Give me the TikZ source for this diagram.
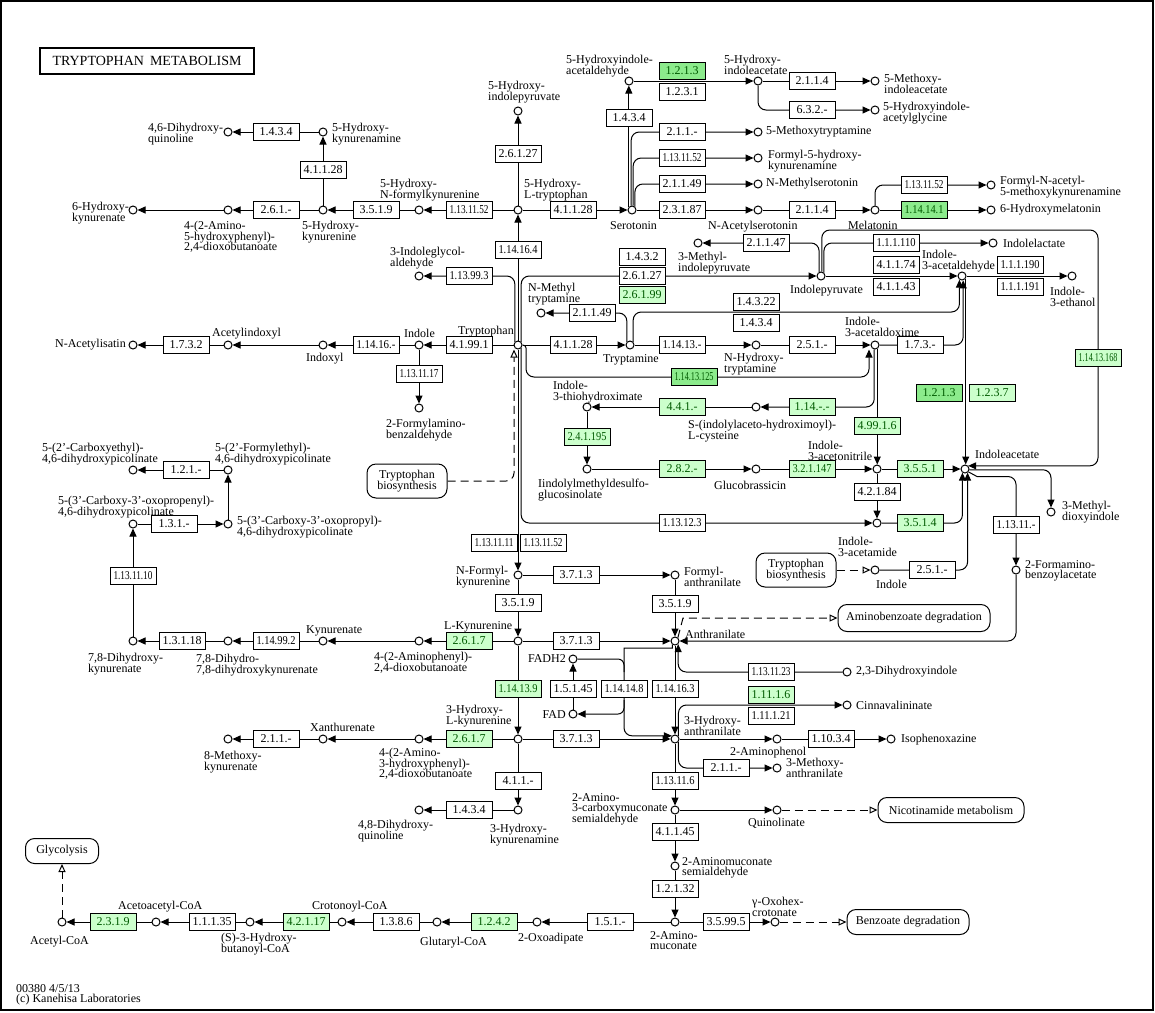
\documentclass[tikz,border=0pt]{standalone}
\usepackage{fontspec}
\setmainfont{Liberation Serif}
\usepackage{graphicx}
\usetikzlibrary{arrows.meta}
\pgfdeclarelayer{bg}
\pgfsetlayers{bg,main}
\definecolor{kgl}{RGB}{204,255,204}
\definecolor{kgd}{RGB}{140,235,140}
\definecolor{kgt}{RGB}{0,90,0}
\newsavebox\ecsave
\newcommand\ecfit[1]{\sbox\ecsave{#1}\ifdim\wd\ecsave>41pt\pgfmathsetmacro\ecr{39/\the\wd\ecsave}\scalebox{\ecr}[1]{\usebox\ecsave}\else\usebox\ecsave\fi}
\newcommand\ec[4]{\node[ecbox] (#1) at (#2,#3) {\ecfit{#4}};}
\newcommand\ecl[4]{\node[ecbox,fill=kgl,text=kgt] (#1) at (#2,#3) {\ecfit{#4}};}
\newcommand\ecd[4]{\node[ecbox,fill=kgd,text=kgt] (#1) at (#2,#3) {\ecfit{#4}};}
\newcommand\cp[3]{\node[cpd] (#1) at (#2,#3) {};}
\tikzset{
 cpd/.style={circle,draw,fill=white,minimum size=8pt,inner sep=0pt,line width=1pt},
 ecbox/.style={draw,fill=white,minimum width=46pt,minimum height=17pt,inner sep=0pt,line width=1pt,font=\fontsize{12}{12}\selectfont},
 lbl/.style={anchor=north west,inner sep=0pt,align=left,font=\fontsize{12}{10.5}\selectfont},
 mapbox/.style={draw,rounded corners=9pt,fill=white,line width=1pt,align=center,inner sep=0pt,font=\fontsize{12}{10.5}\selectfont},
 arr/.style={line width=1pt,-{Triangle[length=8pt,width=7pt]}},
 dsh/.style={line width=1pt,dash pattern=on 8pt off 5pt,-{Triangle[open,length=8pt,width=7pt]}},
 rnd/.style={rounded corners=8pt},
}
\begin{document}
\lineskiplimit=-20pt\relax
\begin{tikzpicture}[x=1pt,y=-1pt]
\useasboundingbox (0,0) rectangle (1155,1012);
\draw[line width=2pt] (1,1) rectangle (1153,1010);
\node[draw,line width=2pt,minimum width=214pt,minimum height=26pt,inner sep=0pt,font=\fontsize{14}{14}\selectfont] (title) at (147,61) {TRYPTOPHAN\hspace{6pt}METABOLISM};
\node[lbl] (footer) at (16,984) {00380 4/5/13\\{}(c) Kanehisa Laboratories};

% ---------- compounds
\cp{c46dhq}{228}{132}
\cp{c5hkna}{323}{132}
\cp{c6hk}{133}{210}
\cp{c4a5h}{228}{210}
\cp{c5hk}{323}{210}
\cp{c5hnfk}{419}{210}
\cp{c5htp}{518}{210}
\cp{c5hip}{518}{111}
\cp{cser}{632}{210}
\cp{c5hial}{629}{81}
\cp{c5hiaa}{758}{81}
\cp{c5miaa}{875}{81}
\cp{c5hiag}{875}{110}
\cp{c5mt}{758}{132}
\cp{cf5hk}{758}{158}
\cp{cnms}{758}{184}
\cp{cnas}{758}{210}
\cp{cmel}{875}{210}
\cp{cfnam}{991}{185}
\cp{c6hm}{991}{210}
\cp{c3igl}{419}{276}
\cp{ctrp}{518}{345}
\cp{cnmt}{541}{313}
\cp{c3mip}{698}{243}
\cp{cipyr}{821}{276}
\cp{cilac}{993}{243}
\cp{ci3ald}{962}{276}
\cp{ci3eth}{1072}{276}
\cp{ctrm}{630}{345}
\cp{cnht}{756}{345}
\cp{ci3aox}{875}{345}
\cp{cindole}{419}{345}
\cp{cindoxyl}{323}{345}
\cp{cacind}{228}{345}
\cp{cnais}{133}{345}
\cp{c2fab}{419}{408}
\cp{ci3th}{587}{407}
\cp{csiac}{756}{407}
\cp{cimdg}{587}{469}
\cp{cgbr}{756}{469}
\cp{ci3an}{877}{469}
\cp{ciaa}{965}{469}
\cp{ci3am}{877}{523}
\cp{cindole2}{875}{570}
\cp{c3md}{1051}{512}
\cp{c2fba}{1016}{570}
\cp{c2ce}{133}{470}
\cp{c2fe}{228}{470}
\cp{c3cop}{133}{524}
\cp{c3coprop}{228}{524}
\cp{c78dhk}{133}{641}
\cp{c78dd}{228}{641}
\cp{ckyna}{323}{641}
\cp{c4a2}{419}{641}
\cp{ckyn}{518}{641}
\cp{cnfk}{518}{575}
\cp{cfa}{675}{575}
\cp{cant}{675}{641}
\cp{c23dhi}{847}{672}
\cp{cfadh2}{573}{659}
\cp{cfad}{573}{714}
\cp{c3hk}{518}{739}
\cp{c4a3h}{419}{739}
\cp{cxan}{323}{739}
\cp{c8mk}{228}{739}
\cp{c3hkna}{518}{810}
\cp{c48dhq}{419}{810}
\cp{c3ha}{675}{739}
\cp{ccinn}{847}{705}
\cp{c2ap}{777}{739}
\cp{ciso}{891}{739}
\cp{c3ma}{777}{768}
\cp{c2acms}{675}{810}
\cp{cquin}{777}{810}
\cp{c2ams}{675}{866}
\cp{c2am}{675}{922}
\cp{coxo}{775}{922}
\cp{c2oa}{537}{922}
\cp{cglut}{437}{922}
\cp{ccrot}{342}{922}
\cp{cshb}{250}{922}
\cp{cacac}{156}{922}
\cp{cacoa}{62}{922}

% ---------- map boxes
\node[mapbox,minimum width=80pt,minimum height=34pt] (mTB1) at (407,481) {Tryptophan\\biosynthesis};
\node[mapbox,minimum width=80pt,minimum height=34pt] (mTB2) at (796,570) {Tryptophan\\biosynthesis};
\node[mapbox,minimum width=152pt,minimum height=27pt] (mAB) at (914,618) {Aminobenzoate degradation};
\node[mapbox,minimum width=146pt,minimum height=25pt] (mNM) at (951,810) {Nicotinamide metabolism};
\node[mapbox,minimum width=122pt,minimum height=25pt] (mBD) at (908,922) {Benzoate degradation};
\node[mapbox,minimum width=73pt,minimum height=25pt] (mGly) at (62,851) {Glycolysis};

% ---------- enzymes
\ec{e1}{276}{132}{1.4.3.4}
\ec{e2}{323}{170}{4.1.1.28}
\ec{e3}{276}{210}{2.6.1.-}
\ec{e4}{376}{210}{3.5.1.9}
\ec{e5}{469}{210}{1.13.11.52}
\ec{e6}{573}{210}{4.1.1.28}
\ec{e7}{518}{154}{2.6.1.27}
\ec{e8}{518}{250}{1.14.16.4}
\ec{e9}{629}{118}{1.4.3.4}
\ecd{e10}{682}{71}{1.2.1.3}
\ec{e11}{682}{92}{1.2.3.1}
\ec{e12}{812}{81}{2.1.1.4}
\ec{e13}{812}{110}{6.3.2.-}
\ec{e14}{682}{132}{2.1.1.-}
\ec{e15}{682}{158}{1.13.11.52}
\ec{e16}{682}{184}{2.1.1.49}
\ec{e17}{682}{210}{2.3.1.87}
\ec{e18}{812}{210}{2.1.1.4}
\ec{e19}{924}{185}{1.13.11.52}
\ecd{e20}{924}{210}{1.14.14.1}
\ec{e21}{766}{243}{2.1.1.47}
\ec{e22}{896}{243}{1.1.1.110}
\ec{e23}{896}{265}{4.1.1.74}
\ec{e24}{896}{287}{4.1.1.43}
\ec{e25}{1020}{265}{1.1.1.190}
\ec{e26}{1020}{287}{1.1.1.191}
\ec{e27}{642}{257}{1.4.3.2}
\ec{e28}{642}{276}{2.6.1.27}
\ecl{e29}{642}{295}{2.6.1.99}
\ec{e30}{469}{276}{1.13.99.3}
\ec{e31}{592}{313}{2.1.1.49}
\ec{e32}{756}{302}{1.4.3.22}
\ec{e33}{756}{323}{1.4.3.4}
\ec{e34}{469}{345}{4.1.99.1}
\ec{e35}{376}{345}{1.14.16.-}
\ec{e36}{186}{345}{1.7.3.2}
\ec{e37}{419}{374}{1.13.11.17}
\ec{e38}{573}{345}{4.1.1.28}
\ec{e39}{682}{345}{1.14.13.-}
\ec{e40}{812}{345}{2.5.1.-}
\ec{e41}{920}{345}{1.7.3.-}
\ecd{e42}{694}{377}{1.14.13.125}
\ecl{e43}{1098}{358}{1.14.13.168}
\ecd{e44}{939}{393}{1.2.1.3}
\ecl{e45}{992}{393}{1.2.3.7}
\ecl{e46}{682}{407}{4.4.1.-}
\ecl{e47}{812}{407}{1.14.-.-}
\ecl{e48}{877}{426}{4.99.1.6}
\ecl{e49}{587}{437}{2.4.1.195}
\ecl{e50}{682}{469}{2.8.2.-}
\ecl{e51}{812}{469}{3.2.1.147}
\ecl{e52}{920}{469}{3.5.5.1}
\ec{e53}{877}{492}{4.2.1.84}
\ecl{e54}{920}{523}{3.5.1.4}
\ec{e55}{682}{523}{1.13.12.3}
\ec{e56}{932}{570}{2.5.1.-}
\ec{e57}{1016}{525}{1.13.11.-}
\ec{e58}{494}{543}{1.13.11.11}
\ec{e59}{543}{543}{1.13.11.52}
\ec{e60}{576}{575}{3.7.1.3}
\ec{e61}{675}{604}{3.5.1.9}
\ec{e62}{518}{603}{3.5.1.9}
\ec{e63}{576}{641}{3.7.1.3}
\ecl{e64}{469}{641}{2.6.1.7}
\ec{e65}{276}{641}{1.14.99.2}
\ec{e66}{182}{641}{1.3.1.18}
\ec{e67}{133}{576}{1.13.11.10}
\ec{e68}{174}{524}{1.3.1.-}
\ec{e69}{186}{470}{1.2.1.-}
\ec{e70}{771}{672}{1.13.11.23}
\ec{e71}{573}{689}{1.5.1.45}
\ec{e72}{624}{689}{1.14.14.8}
\ec{e73}{675}{689}{1.14.16.3}
\ecl{e74}{518}{689}{1.14.13.9}
\ec{e75}{576}{739}{3.7.1.3}
\ecl{e76}{469}{739}{2.6.1.7}
\ec{e77}{276}{739}{2.1.1.-}
\ec{e78}{518}{781}{4.1.1.-}
\ec{e79}{469}{810}{1.4.3.4}
\ecl{e80}{771}{695}{1.11.1.6}
\ec{e81}{771}{716}{1.11.1.21}
\ec{e82}{831}{739}{1.10.3.4}
\ec{e83}{726}{768}{2.1.1.-}
\ec{e84}{675}{781}{1.13.11.6}
\ec{e85}{675}{832}{4.1.1.45}
\ec{e86}{675}{889}{1.2.1.32}
\ec{e87}{726}{922}{3.5.99.5}
\ec{e88}{610}{922}{1.5.1.-}
\ecl{e89}{494}{922}{1.2.4.2}
\ec{e90}{396}{922}{1.3.8.6}
\ecl{e91}{306}{922}{4.2.1.17}
\ec{e92}{212}{922}{1.1.1.35}
\ecl{e93}{113}{922}{2.3.1.9}

% ---------- labels
\node[lbl] (l46dhq) at (148,123) {4,6-Dihydroxy-\\quinoline};
\node[lbl] (l5hkna) at (332,123) {5-Hydroxy-\\kynurenamine};
\node[lbl] (l6hk) at (72,202) {6-Hydroxy-\\kynurenate};
\node[lbl] (l4a5h) at (184,221) {4-(2-Amino-\\5-hydroxyphenyl)-\\2,4-dioxobutanoate};
\node[lbl] (l5hk) at (302,221) {5-Hydroxy-\\kynurenine};
\node[lbl] (l5hnfk) at (380,179) {5-Hydroxy-\\N-formylkynurenine};
\node[lbl] (l5htp) at (524,179) {5-Hydroxy-\\L-tryptophan};
\node[lbl] (l5hip) at (488,81) {5-Hydroxy-\\indolepyruvate};
\node[lbl] (lser) at (610,221) {Serotonin};
\node[lbl] (l5hial) at (566,55) {5-Hydroxyindole-\\acetaldehyde};
\node[lbl] (l5hiaa) at (724,55) {5-Hydroxy-\\indoleacetate};
\node[lbl] (l5miaa) at (884,74) {5-Methoxy-\\indoleacetate};
\node[lbl] (l5hiag) at (883,102) {5-Hydroxyindole-\\acetylglycine};
\node[lbl,anchor=west] (l5mt) at (766,132) {5-Methoxytryptamine};
\node[lbl] (lf5hk) at (768,150) {Formyl-5-hydroxy-\\kynurenamine};
\node[lbl,anchor=west] (lnms) at (766,184) {N-Methylserotonin};
\node[lbl] (lnas) at (708,221) {N-Acetylserotonin};
\node[lbl] (lmel) at (848,221) {Melatonin};
\node[lbl] (lfnam) at (1000,176) {Formyl-N-acetyl-\\5-methoxykynurenamine};
\node[lbl,anchor=west] (l6hm) at (1000,210) {6-Hydroxymelatonin};
\node[lbl] (l3igl) at (390,247) {3-Indoleglycol-\\aldehyde};
\node[lbl] (ltrp) at (458,326) {Tryptophan};
\node[lbl] (lnmt) at (528,283) {N-Methyl\\tryptamine};
\node[lbl] (l3mip) at (678,252) {3-Methyl-\\indolepyruvate};
\node[lbl] (lipyr) at (790,285) {Indolepyruvate};
\node[lbl,anchor=west] (lilac) at (1003,243) {Indolelactate};
\node[lbl] (li3ald) at (922,250) {Indole-\\3-acetaldehyde};
\node[lbl] (li3eth) at (1050,287) {Indole-\\3-ethanol};
\node[lbl] (ltrm) at (603,354) {Tryptamine};
\node[lbl] (lnht) at (724,353) {N-Hydroxy-\\tryptamine};
\node[lbl] (li3aox) at (845,317) {Indole-\\3-acetaldoxime};
\node[lbl] (lindole) at (404,329) {Indole};
\node[lbl] (lindoxyl) at (306,353) {Indoxyl};
\node[lbl] (lacind) at (212,328) {Acetylindoxyl};
\node[lbl,anchor=east] (lnais) at (126,345) {N-Acetylisatin};
\node[lbl] (l2fab) at (386,419) {2-Formylamino-\\benzaldehyde};
\node[lbl] (li3th) at (553,381) {Indole-\\3-thiohydroximate};
\node[lbl] (lsiac) at (688,420) {S-(indolylaceto-hydroximoyl)-\\L-cysteine};
\node[lbl] (limdg) at (538,479) {Iindolylmethyldesulfo-\\glucosinolate};
\node[lbl] (lgbr) at (714,481) {Glucobrassicin};
\node[lbl] (li3an) at (808,441) {Indole-\\3-acetonitrile};
\node[lbl] (liaa) at (975,450) {Indoleacetate};
\node[lbl] (li3am) at (838,537) {Indole-\\3-acetamide};
\node[lbl] (lindole2) at (876,580) {Indole};
\node[lbl] (l3md) at (1062,501) {3-Methyl-\\dioxyindole};
\node[lbl] (l2fba) at (1025,560) {2-Formamino-\\benzoylacetate};
\node[lbl] (l2ce) at (42,443) {5-(2'-Carboxyethyl)-\\4,6-dihydroxypicolinate};
\node[lbl] (l2fe) at (215,443) {5-(2'-Formylethyl)-\\4,6-dihydroxypicolinate};
\node[lbl] (l3cop) at (58,496) {5-(3'-Carboxy-3'-oxopropenyl)-\\4,6-dihydroxypicolinate};
\node[lbl] (l3coprop) at (237,516) {5-(3'-Carboxy-3'-oxopropyl)-\\4,6-dihydroxypicolinate};
\node[lbl] (l78dhk) at (88,653) {7,8-Dihydroxy-\\kynurenate};
\node[lbl] (l78dd) at (196,654) {7,8-Dihydro-\\7,8-dihydroxykynurenate};
\node[lbl] (lkyna) at (306,625) {Kynurenate};
\node[lbl] (l4a2) at (374,652) {4-(2-Aminophenyl)-\\2,4-dioxobutanoate};
\node[lbl] (lkyn) at (444,621) {L-Kynurenine};
\node[lbl] (lnfk) at (456,566) {N-Formyl-\\kynurenine};
\node[lbl] (lfa) at (684,567) {Formyl-\\anthranilate};
\node[lbl] (lant) at (685,630) {Anthranilate};
\node[lbl,anchor=west] (l23dhi) at (856,672) {2,3-Dihydroxyindole};
\node[lbl,anchor=east] (lfadh2) at (566,659) {FADH2};
\node[lbl,anchor=east] (lfad) at (566,715) {FAD};
\node[lbl] (l3hk) at (446,705) {3-Hydroxy-\\L-kynurenine};
\node[lbl] (l4a3h) at (379,748) {4-(2-Amino-\\3-hydroxyphenyl)-\\2,4-dioxobutanoate};
\node[lbl] (lxan) at (310,723) {Xanthurenate};
\node[lbl] (l8mk) at (204,751) {8-Methoxy-\\kynurenate};
\node[lbl] (l3hkna) at (490,824) {3-Hydroxy-\\kynurenamine};
\node[lbl] (l48dhq) at (358,820) {4,8-Dihydroxy-\\quinoline};
\node[lbl] (l3ha) at (684,716) {3-Hydroxy-\\anthranilate};
\node[lbl,anchor=west] (lcinn) at (856,705) {Cinnavalininate};
\node[lbl] (l2ap) at (730,747) {2-Aminophenol};
\node[lbl,anchor=west] (liso) at (901,740) {Isophenoxazine};
\node[lbl] (l3ma) at (786,758) {3-Methoxy-\\anthranilate};
\node[lbl] (l2acms) at (572,793) {2-Amino-\\3-carboxymuconate\\semialdehyde};
\node[lbl] (lquin) at (748,818) {Quinolinate};
\node[lbl] (l2ams) at (682,857) {2-Aminomuconate\\semialdehyde};
\node[lbl] (l2am) at (650,931) {2-Amino-\\muconate};
\node[lbl] (loxo) at (752,897) {γ-Oxohex-\\crotonate};
\node[lbl] (l2oa) at (518,933) {2-Oxoadipate};
\node[lbl] (lglut) at (420,937) {Glutaryl-CoA};
\node[lbl] (lcrot) at (312,901) {Crotonoyl-CoA};
\node[lbl] (lshb) at (221,933) {(S)-3-Hydroxy-\\butanoyl-CoA};
\node[lbl] (lacac) at (118,901) {Acetoacetyl-CoA};
\node[lbl] (lacoa) at (30,936) {Acetyl-CoA};

\coordinate (y312) at (0,312);
\coordinate (x624) at (624,0);
\coordinate (j648) at (624,648);
\coordinate (jfadh2) at (624,672);
\coordinate (jfad) at (624,700);

% ---------- connectors
\begin{pgfonlayer}{bg}
\draw[arr] (c5hk) -- (c5hkna);
\draw[arr] (c5hkna) -- (c46dhq);
\draw[arr] (c5hk) -- (c4a5h);
\draw[arr] (c4a5h) -- (c6hk);
\draw[arr] (c5hnfk) -- (c5hk);
\draw[arr] (c5htp) -- (c5hnfk);
\draw[arr] (c5htp) -- (cser);
\draw[arr] (c5htp) -- (c5hip);
\draw[arr] (ctrp) -- (c5htp);
\draw[arr] (cser.135) -- (cser.135 |- c5hial.south);
\draw[arr,rnd] (cser.100) |- (c5mt.west);
\draw[arr,rnd] (cser.75) |- (cf5hk.west);
\draw[arr,rnd] (cser.50) |- (cnms.west);
\draw[arr] (cser) -- (cnas);
\draw[arr] (c5hial) -- (c5hiaa);
\draw[arr] (c5hiaa) -- (c5miaa);
\draw[arr,rnd] (c5hiaa.south) |- (c5hiag.west);
\draw[arr] (cnas) -- (cmel);
\draw[arr,rnd] (cmel.north) |- (cfnam.west);
\draw[arr] (cmel) -- (c6hm);
% indolepyruvate
\draw[arr,rnd] (ctrp.45) |- (cipyr.west);
\draw[arr,rnd] (ctrp.135) |- (c3igl.east);
\draw[arr,rnd] (cipyr.115) |- (c3mip.east);
\draw[arr,rnd] (cipyr.50) |- (cilac.west);
\draw[arr,rnd] (cipyr.80) |- (1098,230) |- (ciaa.45);
\draw[arr] (cipyr) -- (ci3ald);
\draw[arr] (ci3ald) -- (ci3eth);
\draw[arr] (ci3ald.-35) -- (ci3ald.-35 |- ciaa.north);
% tryptamine
\draw[arr] (ctrp) -- (ctrm);
\draw[arr,rnd] (ctrm.135) |- (cnmt.east);
\draw[arr,rnd] (ctrm.45) |- (y312 -| ci3ald.-125) -- (ci3ald.-125);
\draw[arr] (ctrm) -- (cnht);
\draw[arr] (cnht) -- (ci3aox);
\draw[arr,rnd] (ci3aox.east) -| (ci3ald.-75);
\draw[arr] (ctrp.east) [rounded corners=3pt] -- (526,345) -- (526,352) [rounded corners=8pt] |- (869,377) -- ([xshift=-6pt]ci3aox.south);
\draw[arr,rnd] (ctrp.-45) |- (ci3am.west);
\draw[arr] (ctrp) -- (cnfk);
\draw[dsh,rnd] (mTB1.east) -| ([xshift=-4pt]ctrp.south);
% indole
\draw[arr] (ctrp) -- (cindole);
\draw[arr] (cindole) -- (cindoxyl);
\draw[arr] (cindoxyl) -- (cacind);
\draw[arr] (cacind) -- (cnais);
\draw[arr] (cindole) -- (c2fab);
% glucosinolate
\draw[arr,rnd] (ci3aox.-100) |- (csiac.east);
\draw[arr] (csiac) -- (ci3th);
\draw[arr] (ci3th) -- (cimdg);
\draw[arr] (cimdg) -- (cgbr);
\draw[arr] (cgbr) -- (ci3an);
\draw[arr] (ci3aox.-60) -- (ci3aox.-60 |- ci3an.north);
\draw[arr] (ci3an) -- (ciaa);
\draw[arr] (ci3an) -- (ci3am);
\draw[arr,rnd] (ci3am.east) -| (ciaa.-125);
\draw[arr,rnd] (cindole2.east) -| (ciaa.-55);
\draw[dsh] (mTB2.east) -- (cindole2.west);
\draw[arr,rnd] (ciaa.-10) -| (c3md.north);
\draw[arr] (ciaa.-40) -- (977,476.5) -- (1000,476.5) [rounded corners=8pt] -| (c2fba.north);
\draw[arr,rnd] (c2fba.south) |- (cant.east);
% kynurenine
\draw[arr] (cnfk) -- (cfa);
\draw[arr] (cnfk) -- (ckyn);
\draw[arr] (cfa) -- (cant);
\draw[arr] (ckyn) -- (cant);
\draw[dsh] (cant.50) -- (683,618) -- (mAB.west);
\draw[arr] (ckyn) -- (c4a2);
\draw[arr] (c4a2) -- (ckyna);
\draw[arr] (ckyna) -- (c78dd);
\draw[arr] (c78dd) -- (c78dhk);
\draw[arr] (c78dhk) -- (c3cop);
\draw[arr] (c3cop) -- (c3coprop);
\draw[arr] (c3coprop) -- (c2fe);
\draw[arr] (c2fe) -- (c2ce);
\draw[arr,rnd] (c23dhi.west) -| (cant.-45);
\draw[arr] (cant) -- (c3ha);
\draw[arr] (cant.-125) |- (660,648) -- (j648) [rounded corners=8pt] |- (c3ha.135);
\draw[rounded corners=6pt,line width=1pt] (cfadh2.east) -| (jfadh2);
\draw[arr,rounded corners=6pt] (jfad) |- (cfad.east);
\draw[arr] (cfad) -- (cfadh2);
% hydroxykynurenine
\draw[arr] (ckyn) -- (c3hk);
\draw[arr] (c3hk) -- (c3ha);
\draw[arr] (c3hk) -- (c4a3h);
\draw[arr] (c4a3h) -- (cxan);
\draw[arr] (cxan) -- (c8mk);
\draw[arr] (c3hk) -- (c3hkna);
\draw[arr] (c3hkna) -- (c48dhq);
\draw[arr,rnd] (c3ha.40) |- (ccinn.west);
\draw[arr] (c3ha) -- (c2ap);
\draw[arr] (c2ap) -- (ciso);
\draw[arr,rnd] (c3ha.-40) |- (c3ma.west);
\draw[arr] (c3ha) -- (c2acms);
\draw[arr] (c2acms) -- (cquin);
\draw[dsh] (cquin) -- (mNM);
\draw[arr] (c2acms) -- (c2ams);
\draw[arr] (c2ams) -- (c2am);
\draw[arr] (c2am) -- (coxo);
\draw[dsh] (coxo) -- (mBD);
\draw[arr] (c2am) -- (c2oa);
\draw[arr] (c2oa) -- (cglut);
\draw[arr] (cglut) -- (ccrot);
\draw[arr] (ccrot) -- (cshb);
\draw[arr] (cshb) -- (cacac);
\draw[arr] (cacac) -- (cacoa);
\draw[dsh] (cacoa) -- (mGly);
\end{pgfonlayer}
\end{tikzpicture}
\end{document}
